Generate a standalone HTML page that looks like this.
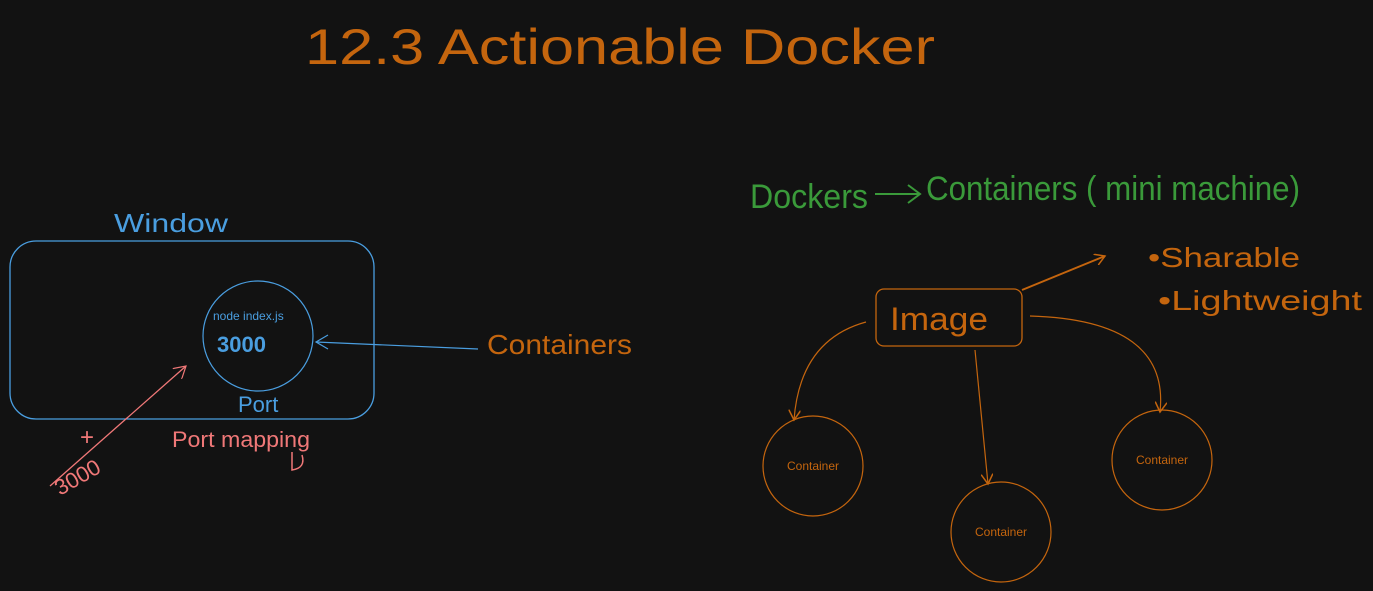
<!DOCTYPE html>
<html><head><meta charset="utf-8"><style>
html,body{margin:0;padding:0;background:#121212;}
svg{display:block}
text{font-family:"Liberation Sans",sans-serif;}
</style></head><body>
<svg width="1373" height="591" viewBox="0 0 1373 591" xmlns="http://www.w3.org/2000/svg">
<rect width="1373" height="591" fill="#121212"/>
<defs>
<marker id="ao" markerWidth="12" markerHeight="12" refX="10" refY="6" orient="auto" markerUnits="userSpaceOnUse"><path d="M0,0 L10,6 L0,12" fill="none" stroke="#c4650e" stroke-width="1.5"/></marker>
<marker id="ar" markerWidth="14" markerHeight="14" refX="12" refY="7" orient="auto" markerUnits="userSpaceOnUse"><path d="M0,0 L12,7 L0,14" fill="none" stroke="#f07878" stroke-width="1.2"/></marker>
</defs>
<text x="305" y="64" font-size="50" fill="#c4650e" textLength="630" lengthAdjust="spacingAndGlyphs">12.3 Actionable Docker</text>

<text x="114" y="232" font-size="26" fill="#4a9ee0" textLength="114" lengthAdjust="spacingAndGlyphs">Window</text>
<rect x="10" y="241" width="364" height="178" rx="26" fill="none" stroke="#4a9ee0" stroke-width="1.3"/>
<circle cx="258" cy="336" r="55" fill="none" stroke="#4a9ee0" stroke-width="1.2"/>
<text x="213" y="320" font-size="12" fill="#4a9ee0">node index.js</text>
<text x="217" y="352" font-size="22" font-weight="bold" fill="#4a9ee0">3000</text>
<text x="238" y="412" font-size="22" fill="#4a9ee0">Port</text>
<line x1="478" y1="349" x2="316" y2="342" stroke="#4a9ee0" stroke-width="1.2"/>
<path d="M328 335 L316 342 L328 349" fill="none" stroke="#4a9ee0" stroke-width="1.2"/>
<text x="487" y="354" font-size="28" fill="#c4650e" textLength="145" lengthAdjust="spacingAndGlyphs">Containers</text>

<line x1="50" y1="486" x2="186" y2="366" stroke="#f07878" stroke-width="1.3" marker-end="url(#ar)"/>
<text x="80" y="445" font-size="24" fill="#f07878">+</text>
<text x="60" y="496" font-size="22" fill="#f07878" transform="rotate(-30 60 496)">3000</text>
<text x="172" y="447" font-size="22" fill="#f07878" textLength="138" lengthAdjust="spacingAndGlyphs">Port mapping</text>
<path d="M292 452 L292 470 Q306 468 302 455" fill="none" stroke="#f07878" stroke-width="1.5"/>

<text x="750" y="208" font-size="34" fill="#3a9a3a" textLength="118" lengthAdjust="spacingAndGlyphs">Dockers</text>
<line x1="875" y1="194" x2="920" y2="194" stroke="#3a9a3a" stroke-width="2"/>
<path d="M908 185 L920 194 L908 203" fill="none" stroke="#3a9a3a" stroke-width="2"/>
<text x="926" y="200" font-size="34" fill="#3a9a3a" textLength="374" lengthAdjust="spacingAndGlyphs">Containers ( mini machine)</text>

<rect x="876" y="289" width="146" height="57" rx="8" fill="none" stroke="#c4650e" stroke-width="1.3"/>
<text x="890" y="330" font-size="32" fill="#c4650e" textLength="98" lengthAdjust="spacingAndGlyphs">Image</text>
<line x1="1022" y1="290" x2="1105" y2="256" stroke="#c4650e" stroke-width="2" marker-end="url(#ao)"/>
<text x="1148" y="267" font-size="28" fill="#c4650e" textLength="152" lengthAdjust="spacingAndGlyphs">•Sharable</text>
<text x="1158" y="310" font-size="28" fill="#c4650e" textLength="204" lengthAdjust="spacingAndGlyphs">•Lightweight</text>

<path d="M866 322 Q800 340 794 420" fill="none" stroke="#c4650e" stroke-width="1.2" marker-end="url(#ao)"/>
<path d="M975 350 L988 484" fill="none" stroke="#c4650e" stroke-width="1.2" marker-end="url(#ao)"/>
<path d="M1030 316 Q1170 320 1160 412" fill="none" stroke="#c4650e" stroke-width="1.2" marker-end="url(#ao)"/>
<circle cx="813" cy="466" r="50" fill="none" stroke="#c4650e" stroke-width="1.2"/>
<text x="813" y="470" font-size="12" fill="#c4650e" text-anchor="middle">Container</text>
<circle cx="1162" cy="460" r="50" fill="none" stroke="#c4650e" stroke-width="1.2"/>
<text x="1162" y="464" font-size="12" fill="#c4650e" text-anchor="middle">Container</text>
<circle cx="1001" cy="532" r="50" fill="none" stroke="#c4650e" stroke-width="1.2"/>
<text x="1001" y="536" font-size="12" fill="#c4650e" text-anchor="middle">Container</text>
</svg>
</body></html>
